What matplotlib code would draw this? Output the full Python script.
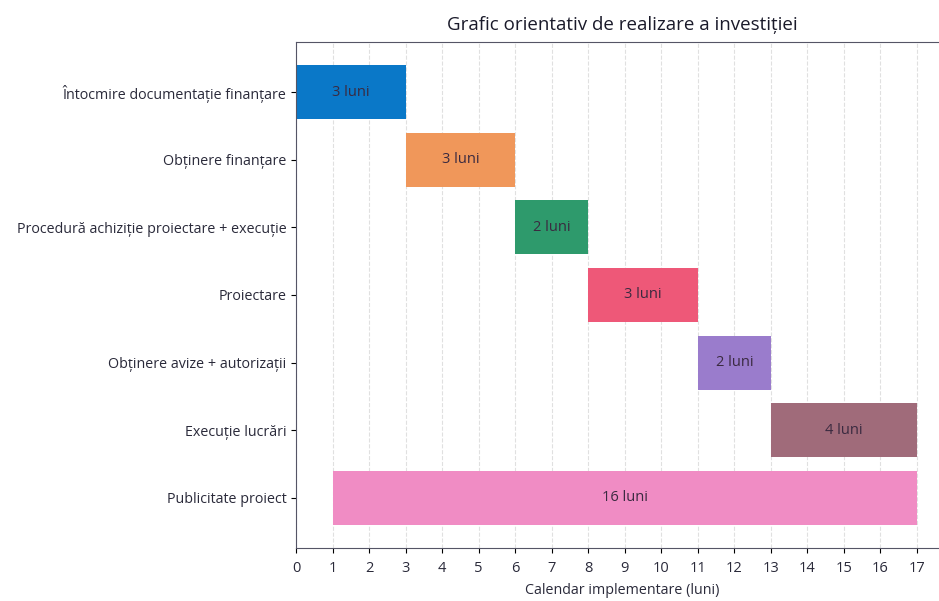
import matplotlib
matplotlib.use("Agg")
import matplotlib.pyplot as plt

plt.rcParams["font.family"] = ["Open Sans", "DejaVu Sans"]

tasks = [
    "Întocmire documentație finanțare",
    "Obținere finanțare",
    "Procedură achiziție proiectare + execuție",
    "Proiectare",
    "Obținere avize + autorizații",
    "Execuție lucrări",
    "Publicitate proiect",
]
starts = [0, 3, 6, 8, 11, 13, 1]
durations = [3, 3, 2, 3, 2, 4, 16]
colors = ["#0a78c8", "#f0975a", "#2e9a6c", "#ee5878", "#9a7ccc", "#a06b7a", "#f08cc4"]

fig = plt.figure(figsize=(9.39, 6.01), dpi=100)
ax = fig.add_axes([296 / 939, 53 / 601, 652 / 939, 506 / 601])

ypos = list(range(len(tasks)))
ax.barh(ypos, durations, left=starts, height=0.8, color=colors)
for y, s, d in zip(ypos, starts, durations):
    ax.text(s + d / 2, y, f"{d} luni", ha="center", va="center",
            fontsize=10.5, color="#3a2a40")

ax.set_yticks(ypos)
ax.set_yticklabels(tasks, fontsize=10.3, color="#2a2a3a")
ax.invert_yaxis()
ax.set_xlim(0, 17.85)
ax.set_xticks(range(0, 18))
ax.tick_params(axis="x", labelsize=10.5, labelcolor="#2a2a3a", pad=6)
ax.grid(axis="x", linestyle="--", color="#cccccc", alpha=0.6, linewidth=0.8)
ax.set_axisbelow(True)
for side in ("left", "bottom", "top"):
    ax.spines[side].set_color("#555566")
ax.spines["right"].set_visible(False)

ax.set_xlabel("Calendar implementare (luni)", fontsize=10.3, color="#2a2a3a", labelpad=5)
ax.set_title("Grafic orientativ de realizare a investiției", fontsize=13.5,
             color="#1a1a2a", pad=9)

fig.savefig("out.png", dpi=100)
